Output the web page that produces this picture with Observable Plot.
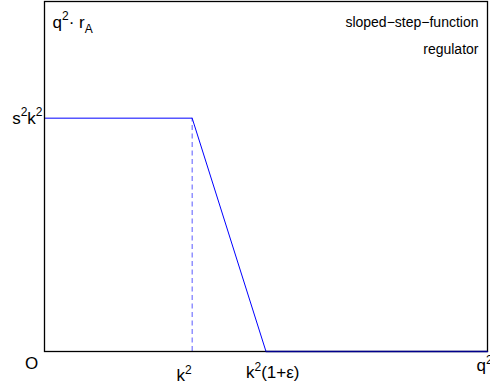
<!DOCTYPE html>
<html>
<head>
<meta charset="utf-8">
<script src="https://cdn.jsdelivr.net/npm/d3@7"></script>
<script src="https://cdn.jsdelivr.net/npm/@observablehq/plot@0.6"></script>
<style>
  html, body { margin: 0; padding: 0; background: #fff; }
  svg { display: block; }
</style>
</head>
<body>
<div id="chart"></div>
<script>
// Regulator curve (x in units of k², y in units of s²k²)
const curveX = [0, 1, 1.5, 3];
const curveY = [1, 1, 0, 0];
// dashed marker at k²
const dashX = [1];
const dashTop = [1];
// tick labels
const xTickValues = [0, 1, 1.5, 3];
const xTickLabels = ["O", "k^2", "k^2(1+ε)", "q^2"];
const yTickValues = [1];
const yTickLabels = ["s^2k^2"];
const yAxisLabel = "q^2· r_A";
const legendLines = ["sloped−step−function", "regulator"];

const curve = curveX.map((x, i) => ({x, y: curveY[i]}));
const sloped = curve.filter(d => !(d.y === 0 && d.x > 1.5));
const onAxis = curve.filter(d => d.y === 0);

const font = "Liberation Sans, Arial, Helvetica, sans-serif";
const tick = (i, opts) => Plot.text([xTickLabels[i]], {x: xTickValues[i], y: 0, text: d => d, fontSize: 17, fill: "black", ...opts});

const plot = Plot.plot({
  width: 490,
  height: 386,
  marginLeft: 44,
  marginRight: 3,
  marginTop: 1,
  marginBottom: 35,
  x: {domain: [0, 3], axis: null},
  y: {domain: [0, 1.5], axis: null},
  style: {fontFamily: font, background: "white", overflow: "hidden"},
  marks: [
    Plot.ruleX(dashX, {x: d => d, y1: 0, y2: (d, i) => dashTop[i], stroke: "#5a5aff", strokeWidth: 1, strokeDasharray: "5,3.5"}),
    Plot.line(sloped, {x: "x", y: "y", stroke: "#0000ff", strokeWidth: 1}),
    Plot.frame({stroke: "black", strokeWidth: 1.3}),
    Plot.line(onAxis, {x: "x", y: "y", stroke: "#00008c", strokeWidth: 1.3}),
    tick(0, {textAnchor: "middle", dx: -13, dy: 12.5}),
    tick(1, {textAnchor: "middle", dx: -8, dy: 24}),
    tick(2, {textAnchor: "start", dx: -20, dy: 21}),
    tick(3, {textAnchor: "start", dx: -11, dy: 14.5}),
    Plot.text(yTickLabels, {x: 0, y: (d, i) => yTickValues[i], text: d => d, textAnchor: "end", dx: -2, dy: 0, fontSize: 17, fill: "black"}),
    Plot.text([yAxisLabel], {frameAnchor: "top-left", text: d => d, textAnchor: "start", dx: 8, dy: 14, fontSize: 17, fill: "black"}),
    Plot.text([legendLines[0]], {frameAnchor: "top-right", text: d => d, textAnchor: "end", dx: -9, dy: 16, fontSize: 14, fill: "black"}),
    Plot.text([legendLines[1]], {frameAnchor: "top-right", text: d => d, textAnchor: "end", dx: -9, dy: 43, fontSize: 14, fill: "black"})
  ]
});

// turn ^x / _x markup into real super/subscript tspans
d3.select(plot).selectAll("text").each(function () {
  const t = this.textContent;
  if (!/[\^_]/.test(t)) return;
  const base = parseFloat(this.getAttribute("font-size")) || 17;
  const small = Math.round(base * 0.7);
  const up = base * 0.42, down = base * 0.3;
  const parts = t.split(/([\^_].)/).filter(p => p);
  const sel = d3.select(this);
  sel.text(null);
  let offset = 0;
  for (const p of parts) {
    let target = 0, txt = p, size = null;
    if (p[0] === "^") { target = -up; txt = p.slice(1); size = small; }
    else if (p[0] === "_") { target = down; txt = p.slice(1); size = small; }
    const ts = sel.append("tspan").attr("dy", (target - offset).toFixed(2)).text(txt);
    if (size) ts.attr("font-size", size);
    offset = target;
  }
});

document.getElementById("chart").appendChild(plot);
</script>
</body>
</html>
